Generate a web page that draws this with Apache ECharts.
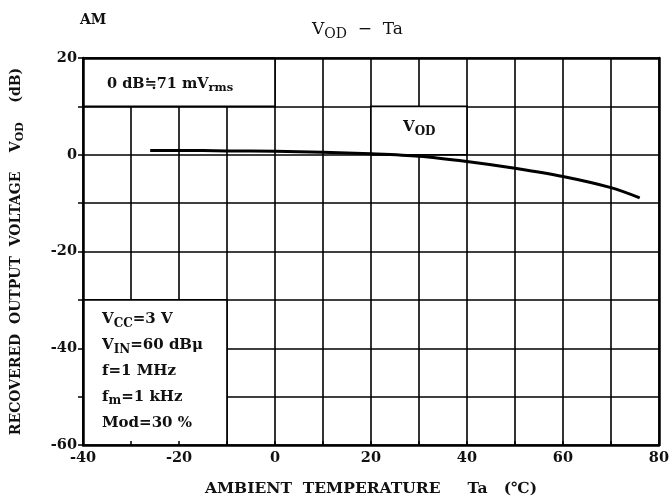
<!DOCTYPE html>
<html>
<head>
<meta charset="utf-8">
<script src="https://cdn.jsdelivr.net/npm/echarts@6/dist/echarts.min.js"></script>
<style>
  html, body { margin: 0; padding: 0; background: #fff; }
  #chart { width: 672px; height: 502px; }
</style>
</head>
<body>
<div id="chart"></div>
<script>
// VOD - Ta curve (AM)
var tempC = [-26, -20, -10, 0, 10, 20, 30, 40, 50, 60, 70, 76];
var vodDb = [0.9, 0.9, 0.8, 0.7, 0.5, 0.2, -0.3, -1.4, -2.8, -4.5, -6.8, -8.9];

var xTicks = [-40, -20, 0, 20, 40, 60, 80];
var yTicks = [20, 0, -20, -40, -60];

// blank label boxes on the grid [x0, y0, x1, y1]
var boxes = [
  [-40, 20, 0, 10],
  [20, 10, 40, 0],
  [-40, -30, -10, -60]
];

var conditions = [
  'V{s|CC}=3 V',
  'V{s|IN}=60 dBμ',
  'f=1 MHz',
  'f{s|m}=1 kHz',
  'Mod=30 %'
];

var FONT = '"DejaVu Serif", serif';

var chart = echarts.init(document.getElementById('chart'));

function txt(opts) {
  return Object.assign({ fontFamily: FONT, fontWeight: 'bold', fill: '#111' }, opts);
}

function subRich(size, weight) {
  return {
    s: { fontFamily: FONT, fontWeight: weight || 'bold', fontSize: size - 3, padding: [size * 0.55, 0, 0, 0], color: '#111' }
  };
}

var graphics = [
  { type: 'text', z: 100, left: 80, top: 13, style: txt({ text: 'AM', fontSize: 14 }) },
  { type: 'text', z: 100, left: 312, top: 21, style: txt({ text: 'V{s|OD}  −  Ta', fontSize: 17, fontWeight: 'normal', rich: subRich(17, 'normal') }) },
  { type: 'text', z: 100, left: 107, top: 77, style: txt({ text: '0 dB≒71 mV{s|rms}', fontSize: 14.5, rich: subRich(14.5) }) },
  { type: 'text', z: 100, left: 403, top: 120, style: txt({ text: 'V{s|OD}', fontSize: 15, rich: subRich(15) }) }
];
conditions.forEach(function (t, i) {
  graphics.push({
    type: 'text', z: 100, left: 102, top: 312 + i * 25.8,
    style: txt({ text: t, fontSize: 15, rich: subRich(15) })
  });
});

var frame = { show: true, onZero: false, lineStyle: { color: '#000', width: 2.5 } };
var gridLine = { show: true, lineStyle: { color: '#000', width: 1.6 } };

var option = {
  backgroundColor: '#fff',
  animation: false,
  grid: { left: 83, right: 9, top: 58, bottom: 56, show: false },
  xAxis: [
    {
      // main x axis: frame, ticks, labels (drawn above the blank boxes)
      type: 'value', min: -40, max: 80, interval: 10, position: 'bottom', z: 10,
      name: 'AMBIENT  TEMPERATURE     Ta   (℃)',
      nameLocation: 'middle', nameGap: 36,
      nameTextStyle: { fontFamily: FONT, fontWeight: 'bold', fontSize: 15.5, color: '#111' },
      axisLine: frame,
      axisTick: { show: true, inside: true, length: 4, lineStyle: { color: '#000', width: 1.5 } },
      axisLabel: {
        fontFamily: FONT, fontWeight: 'bold', fontSize: 14.5, color: '#111', margin: 6,
        formatter: function (v) { return xTicks.indexOf(v) >= 0 ? String(v) : ''; }
      },
      splitLine: { show: false }
    },
    {
      // top frame
      type: 'value', min: -40, max: 80, interval: 10, position: 'top', z: 10,
      axisLine: frame, axisTick: { show: false }, axisLabel: { show: false }, splitLine: { show: false }
    },
    {
      // grid lines only, below the boxes
      type: 'value', min: -40, max: 80, interval: 10, z: 0,
      axisLine: { show: false }, axisTick: { show: false }, axisLabel: { show: false },
      splitLine: gridLine
    }
  ],
  yAxis: [
    {
      type: 'value', min: -60, max: 20, interval: 10, position: 'left', z: 10,
      name: 'RECOVERED  OUTPUT  VOLTAGE    V{s|OD}    (dB)',
      nameLocation: 'middle', nameRotate: 90, nameGap: 57,
      nameTextStyle: { fontFamily: FONT, fontWeight: 'bold', fontSize: 14, color: '#111', rich: subRich(14) },
      axisLine: frame,
      axisTick: { show: true, inside: false, length: 5, lineStyle: { color: '#000', width: 1.5 } },
      axisLabel: {
        fontFamily: FONT, fontWeight: 'bold', fontSize: 14.5, color: '#111', margin: 6,
        formatter: function (v) { return yTicks.indexOf(v) >= 0 ? String(v) : ''; }
      },
      splitLine: { show: false }
    },
    {
      type: 'value', min: -60, max: 20, interval: 10, position: 'right', z: 10,
      axisLine: frame, axisTick: { show: false }, axisLabel: { show: false }, splitLine: { show: false }
    },
    {
      type: 'value', min: -60, max: 20, interval: 10, z: 0,
      axisLine: { show: false }, axisTick: { show: false }, axisLabel: { show: false },
      splitLine: gridLine
    }
  ],
  graphic: graphics,
  series: [
    {
      type: 'line', data: [], z: 1, silent: true,
      markArea: {
        silent: true,
        itemStyle: { color: '#fff', borderColor: '#000', borderWidth: 1.6, opacity: 1 },
        label: { show: false },
        data: boxes.map(function (b) {
          return [{ xAxis: b[0], yAxis: b[1] }, { xAxis: b[2], yAxis: b[3] }];
        })
      }
    },
    {
      type: 'line', z: 5,
      data: tempC.map(function (t, i) { return [t, vodDb[i]]; }),
      smooth: 0.3, showSymbol: false,
      lineStyle: { color: '#000', width: 3 }
    }
  ]
};

chart.setOption(option);
</script>
</body>
</html>
